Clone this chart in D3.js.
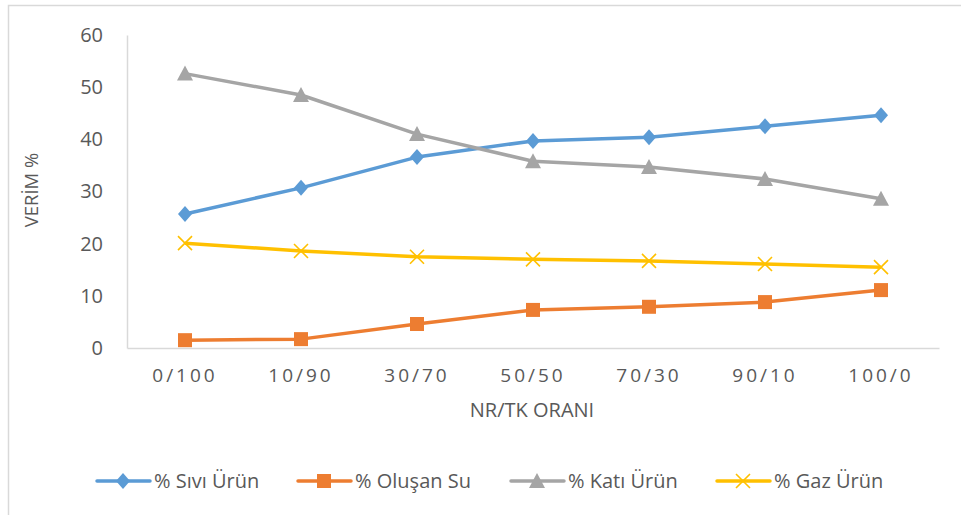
<!DOCTYPE html>
<html lang="tr">
<head>
    <meta charset="utf-8">
    <script src="https://d3js.org/d3.v7.min.js"></script>
    <style>
        body { margin: 0; background: white; }
        text { font-family: "Open Sans", "Noto Sans", sans-serif; fill: #595959; }
    </style>
</head>
<body>
    <svg id="chart" width="961" height="515"></svg>
    <script>
    const categories = ["0/100", "10/90", "30/70", "50/50", "70/30", "90/10", "100/0"];
    const yTicks = [0, 10, 20, 30, 40, 50, 60];

    const sivi = [25.7, 30.7, 36.6, 39.7, 40.4, 42.5, 44.6];
    const su = [1.5, 1.7, 4.6, 7.3, 7.9, 8.8, 11.1];
    const kati = [52.6, 48.5, 41.0, 35.8, 34.7, 32.4, 28.6];
    const gaz = [20.1, 18.6, 17.5, 17.0, 16.7, 16.1, 15.5];

    const seriesNames = ["% Sıvı Ürün", "% Oluşan Su", "% Katı Ürün", "% Gaz Ürün"];
    const seriesColors = ["#5b9bd5", "#ed7d31", "#a5a5a5", "#ffc000"];
    const seriesShapes = ["diamond", "square", "triangle", "cross"];
    const seriesValues = [sivi, su, kati, gaz];

    const svg = d3.select("#chart");
    const margin = {top: 35, left: 127, right: 22, bottom: 167};
    const width = 961, height = 515;

    // chart frame (only top and left are visible in the picture)
    svg.append("path")
        .attr("d", `M8.5,${height} V5.5 H${width}`)
        .attr("fill", "none")
        .attr("stroke", "#d9d9d9")
        .attr("stroke-width", 1.5);

    const x = d3.scaleBand()
        .domain(categories)
        .range([margin.left, width - margin.right]);
    const y = d3.scaleLinear()
        .domain([0, 60])
        .range([height - margin.bottom, margin.top]);

    // axes
    const xAxis = svg.append("g")
        .attr("transform", `translate(0,${y(0)})`)
        .call(d3.axisBottom(x).tickSize(0).tickPadding(21));
    xAxis.select(".domain").attr("stroke", "#d9d9d9").attr("stroke-width", 1.5);
    xAxis.selectAll("text")
        .style("font-size", "19px")
        .style("letter-spacing", "3px")
        .attr("fill", "#595959");

    const yAxis = svg.append("g")
        .attr("transform", `translate(${margin.left},0)`)
        .call(d3.axisLeft(y).tickValues(yTicks).tickSize(0).tickPadding(24));
    yAxis.select(".domain").attr("stroke", "#d9d9d9").attr("stroke-width", 1.5);
    yAxis.selectAll("text")
        .style("font-size", "20px")
        .attr("fill", "#595959");

    // axis titles
    svg.append("text")
        .attr("x", (x.range()[0] + x.range()[1]) / 2 - 1)
        .attr("y", 417)
        .attr("text-anchor", "middle")
        .style("font-size", "20px")
        .text("NR/TK ORANI");

    svg.append("text")
        .attr("transform", `translate(38,190) rotate(-90)`)
        .attr("text-anchor", "middle")
        .style("font-size", "18.5px")
        .text("VERİM %");

    function marker(g, shape, color) {
        if (shape === "diamond") {
            g.append("path").attr("d", "M0,-8 L7,0 L0,8 L-7,0 Z").attr("fill", color);
        } else if (shape === "square") {
            g.append("rect").attr("x", -7).attr("y", -7).attr("width", 14).attr("height", 14).attr("fill", color);
        } else if (shape === "triangle") {
            g.append("path").attr("d", "M0,-8 L8,7 L-8,7 Z").attr("fill", color);
        } else {
            g.append("path").attr("d", "M-7,-7 L7,7 M7,-7 L-7,7")
                .attr("stroke", color).attr("stroke-width", 1.6).attr("fill", "none");
        }
    }

    const line = d3.line()
        .x((d, i) => x(categories[i]) + x.bandwidth() / 2)
        .y(d => y(d));

    // draw series
    seriesValues.forEach(function(vals, s) {
        svg.append("path")
            .datum(vals)
            .attr("d", line)
            .attr("fill", "none")
            .attr("stroke", seriesColors[s])
            .attr("stroke-width", 3.5)
            .attr("stroke-linejoin", "round");

        vals.forEach(function(v, i) {
            const g = svg.append("g")
                .attr("transform", `translate(${x(categories[i]) + x.bandwidth() / 2},${y(v)})`);
            marker(g, seriesShapes[s], seriesColors[s]);
        });
    });

    // legend
    const legendX = [97, 298, 511, 717];
    seriesNames.forEach(function(name, s) {
        const lg = svg.append("g").attr("transform", `translate(${legendX[s]},481)`);
        lg.append("line")
            .attr("x1", 0).attr("x2", 53)
            .attr("stroke", seriesColors[s])
            .attr("stroke-width", 3.5)
            .attr("stroke-linecap", "round");
        const m = lg.append("g").attr("transform", "translate(26,0)");
        marker(m, seriesShapes[s], seriesColors[s]);
        lg.append("text")
            .attr("x", 57)
            .attr("y", 7)
            .style("font-size", "20px")
            .text(name);
    });
    </script>
</body>
</html>
